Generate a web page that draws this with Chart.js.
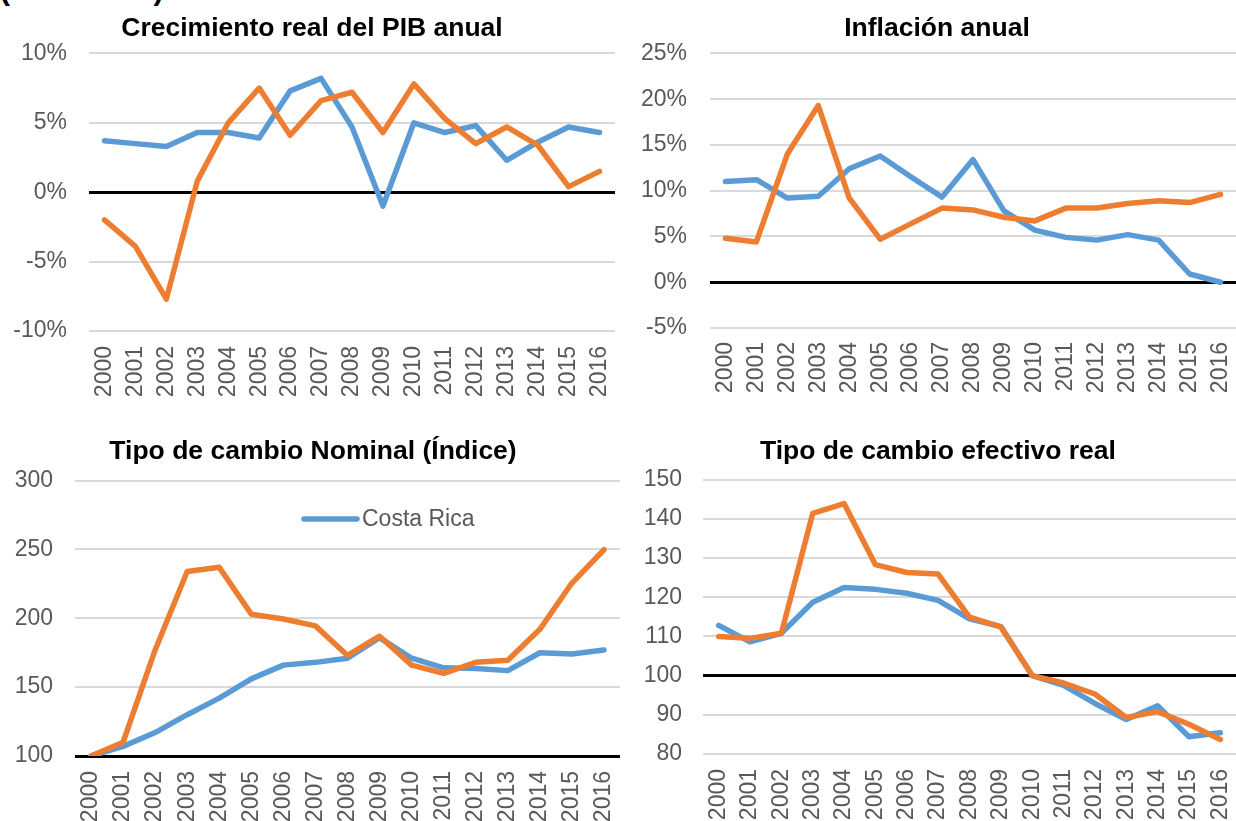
<!DOCTYPE html>
<html>
<head>
<meta charset="utf-8">
<script src="https://cdn.jsdelivr.net/npm/chart.js@4"></script>
<style>
  body { margin: 0; width: 1236px; height: 821px; overflow: hidden; background: #fff; position: relative; font-family: "Liberation Sans", Arial, sans-serif; }
  canvas { position: absolute; }
  #head { position: absolute; left: 0; top: -25px; font: bold 30px/30px "Liberation Sans", Arial, sans-serif; color: #000; white-space: nowrap; }
</style>
</head>
<body>
<div id="head">(2000-2016)</div>
<canvas id="c1" width="618" height="410" style="left:0;top:0"></canvas>
<canvas id="c2" width="618" height="410" style="left:618px;top:0"></canvas>
<canvas id="c3" width="620" height="420" style="left:0;top:420px"></canvas>
<canvas id="c4" width="618" height="420" style="left:618px;top:420px"></canvas>
<script>
const years = ['2000','2001','2002','2003','2004','2005','2006','2007','2008','2009','2010','2011','2012','2013','2014','2015','2016'];

// Crecimiento real del PIB anual (%)
const pibCostaRica = [3.7, 3.5, 3.3, 4.3, 4.3, 3.9, 7.3, 8.2, 4.7, -1.0, 5.0, 4.3, 4.8, 2.3, 3.6, 4.7, 4.3];
const pibOtro      = [-2.0, -3.9, -7.7, 0.8, 5.0, 7.5, 4.1, 6.6, 7.2, 4.3, 7.8, 5.3, 3.5, 4.7, 3.4, 0.4, 1.5];

// Inflación anual (%)
const inflCostaRica = [11.0, 11.2, 9.2, 9.4, 12.4, 13.8, 11.5, 9.3, 13.4, 7.8, 5.7, 4.9, 4.6, 5.2, 4.6, 0.9, 0.0];
const inflOtro      = [4.8, 4.4, 14.0, 19.3, 9.2, 4.7, 6.4, 8.1, 7.9, 7.1, 6.7, 8.1, 8.1, 8.6, 8.9, 8.7, 9.6];

// Tipo de cambio nominal (índice 2000 = 100)
const tcnCostaRica = [100, 107, 117, 130, 142, 156, 166, 168, 171, 186, 171, 164, 163.5, 162, 175, 174, 177];
const tcnOtro      = [100, 110, 177, 234, 237, 203, 199.5, 194.5, 173, 187, 166, 160, 168, 169.5, 192, 225.6, 249.8];

// Tipo de cambio efectivo real (índice 2010 = 100)
const tcerCostaRica = [112.8, 108.6, 110.8, 118.7, 122.5, 122.0, 121.0, 119.2, 114.5, 112.5, 100, 97.5, 92.9, 88.8, 92.3, 84.4, 85.4];
const tcerOtro      = [110.0, 109.5, 110.8, 141.4, 143.9, 128.3, 126.3, 125.9, 114.9, 112.4, 100, 98.1, 95.3, 89.3, 90.8, 87.6, 83.7];

const blue = '#5B9BD5', orange = '#ED7D31';
const tickColor = '#595959';
const font = '"Liberation Sans", Arial, sans-serif';

function series(a, b) {
  return [
    { label: 'Costa Rica', data: a, borderColor: blue, backgroundColor: blue, order: 1 },
    { label: '', data: b, borderColor: orange, backgroundColor: orange, order: 0 }
  ];
}

// legend entry drawn inside the plot, only in the nominal chart
const insideLegend = {
  id: 'insideLegend',
  afterDraw(chart) {
    const ds = chart.data.datasets[0];
    const c = chart.ctx;
    c.save();
    c.strokeStyle = ds.borderColor; c.lineWidth = 5.5; c.lineCap = 'round';
    c.beginPath(); c.moveTo(304, 99); c.lineTo(357, 99); c.stroke();
    c.fillStyle = tickColor; c.font = '23px ' + font; c.textBaseline = 'middle'; c.textAlign = 'left';
    c.fillText(ds.label, 362, 100);
    c.restore();
  }
};

function makeChart(id, p) {
  new Chart(document.getElementById(id), {
    type: 'line',
    data: { labels: years, datasets: p.datasets },
    plugins: p.plugins || [],
    options: {
      responsive: false,
      animation: false,
      devicePixelRatio: 1,
      layout: { padding: { left: p.padLeft, right: p.padRight, top: 0, bottom: 0 } },
      elements: {
        line: { borderWidth: 5.5, tension: 0, borderCapStyle: 'round', borderJoinStyle: 'round' },
        point: { radius: 0 }
      },
      plugins: {
        legend: { display: false },
        tooltip: { enabled: false },
        title: {
          display: true, text: p.title, color: '#000',
          font: { family: font, size: 26.5, weight: 'bold' },
          padding: { top: p.tTop, bottom: p.tBottom }
        }
      },
      scales: {
        x: {
          offset: true,
          grid: { display: false, drawTicks: false },
          border: { display: false },
          ticks: { color: tickColor, font: { family: font, size: 23 }, minRotation: 90, maxRotation: 90, padding: p.xPad, autoSkip: false },
          afterFit: s => { s.height = p.xHeight; s.paddingLeft = 0; s.paddingRight = 0; }
        },
        y: {
          min: p.min, max: p.max,
          grid: {
            drawTicks: false,
            color: c => c.tick && c.tick.value === p.base ? '#000' : '#D9D9D9',
            lineWidth: c => c.tick && c.tick.value === p.base ? 3 : 2
          },
          border: { display: false },
          ticks: { stepSize: p.step, color: tickColor, font: { family: font, size: 23 }, padding: p.yPad, callback: p.fmt },
          afterFit: s => { s.width = p.yWidth; s.paddingTop = 0; s.paddingBottom = 0; }
        }
      }
    }
  });
}

const pct = v => v + '%';

makeChart('c1', {
  title: 'Crecimiento real del PIB anual', datasets: series(pibCostaRica, pibOtro),
  min: -10, max: 10, step: 5, base: 0, fmt: pct,
  padLeft: 9, padRight: 3, yWidth: 80, yPad: 22, tTop: 13, tBottom: 8.6, xHeight: 79, xPad: 15
});
makeChart('c2', {
  title: 'Inflación anual', datasets: series(inflCostaRica, inflOtro),
  min: -5, max: 25, step: 5, base: 0, fmt: pct,
  padLeft: 20, padRight: 0, yWidth: 72, yPad: 23, tTop: 13, tBottom: 8.6, xHeight: 82, xPad: 14
});
makeChart('c3', {
  title: 'Tipo de cambio Nominal (Índice)', datasets: series(tcnCostaRica, tcnOtro),
  min: 100, max: 300, step: 50, base: 100, fmt: v => v,
  padLeft: 6, padRight: 0, yWidth: 69, yPad: 22, tTop: 15.4, tBottom: 13.4, xHeight: 84, xPad: 15,
  plugins: [insideLegend]
});
makeChart('c4', {
  title: 'Tipo de cambio efectivo real', datasets: series(tcerCostaRica, tcerOtro),
  min: 80, max: 150, step: 10, base: 100, fmt: v => v,
  padLeft: 22, padRight: 0, yWidth: 63, yPad: 21, tTop: 15.4, tBottom: 12.4, xHeight: 86, xPad: 15
});
</script>
</body>
</html>
